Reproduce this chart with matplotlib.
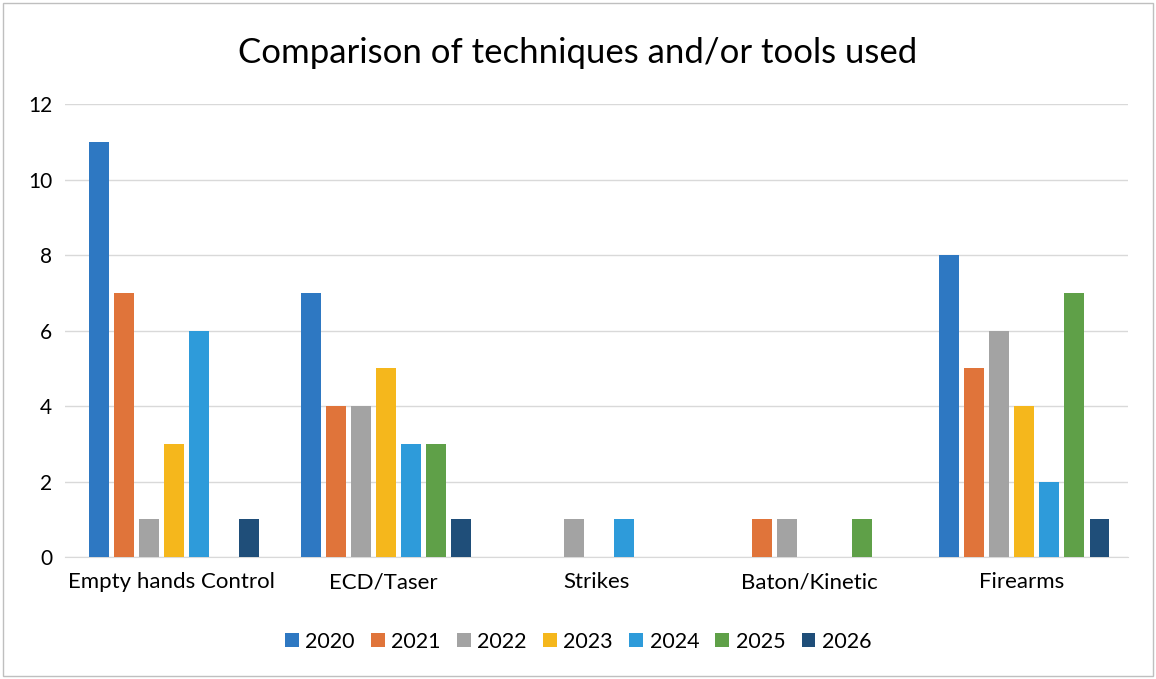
import matplotlib
matplotlib.use("Agg")
import matplotlib.pyplot as plt
import numpy as np
from matplotlib.patches import Rectangle

categories = ["Empty hands Control", "ECD/Taser", "Strikes", "Baton/Kinetic", "Firearms"]
years = ["2020", "2021", "2022", "2023", "2024", "2025", "2026"]
values = {
    "2020": [11, 7, 0, 0, 8],
    "2021": [7, 4, 0, 1, 5],
    "2022": [1, 4, 1, 1, 6],
    "2023": [3, 5, 0, 0, 4],
    "2024": [6, 3, 1, 0, 2],
    "2025": [0, 3, 0, 1, 7],
    "2026": [1, 1, 0, 0, 1],
}
colors = ["#2E78C2", "#E0743A", "#A3A3A3", "#F5B71C", "#2E9BDA", "#5FA048", "#1F4E79"]

plt.rcParams['font.family'] = ['Lato', 'DejaVu Sans']
fig = plt.figure(figsize=(11.56, 6.79), dpi=100)
ax = fig.add_axes([0.056, 0.1797, 0.92, 0.667])

x = np.arange(len(categories))
pitch = 0.1176
width = 0.094
for i, y in enumerate(years):
    ax.bar(x + (i - 3) * pitch + 0.012, values[y], width=width, color=colors[i], label=y, zorder=3)

ax.set_xlim(-0.5, len(categories) - 0.5)
ax.set_ylim(0, 12)
ax.set_yticks(range(0, 13, 2))
ax.set_xticks(x)
ax.set_xticklabels(categories, fontsize=16)
ax.tick_params(axis='y', labelsize=15, length=0, pad=9)
ax.tick_params(axis='x', length=0, pad=11)
ax.grid(axis='y', color='#D9D9D9', lw=1, zorder=0)
for s in ['top', 'right', 'left']:
    ax.spines[s].set_visible(False)
ax.spines['bottom'].set_color('#D9D9D9')

fig.text(0.5, 0.922, "Comparison of techniques and/or tools used", ha='center', va='center', fontsize=25)
fig.legend(loc='center', bbox_to_anchor=(0.5, 0.055), ncol=7, frameon=False, fontsize=15.5,
           handlelength=0.65, handleheight=0.65, columnspacing=0.75, handletextpad=0.3)
fig.patches.append(Rectangle((0.003, 0.004), 0.994, 0.992, transform=fig.transFigure,
                             fill=False, edgecolor='#BFBFBF', lw=1))
fig.savefig("out.png", dpi=100)
